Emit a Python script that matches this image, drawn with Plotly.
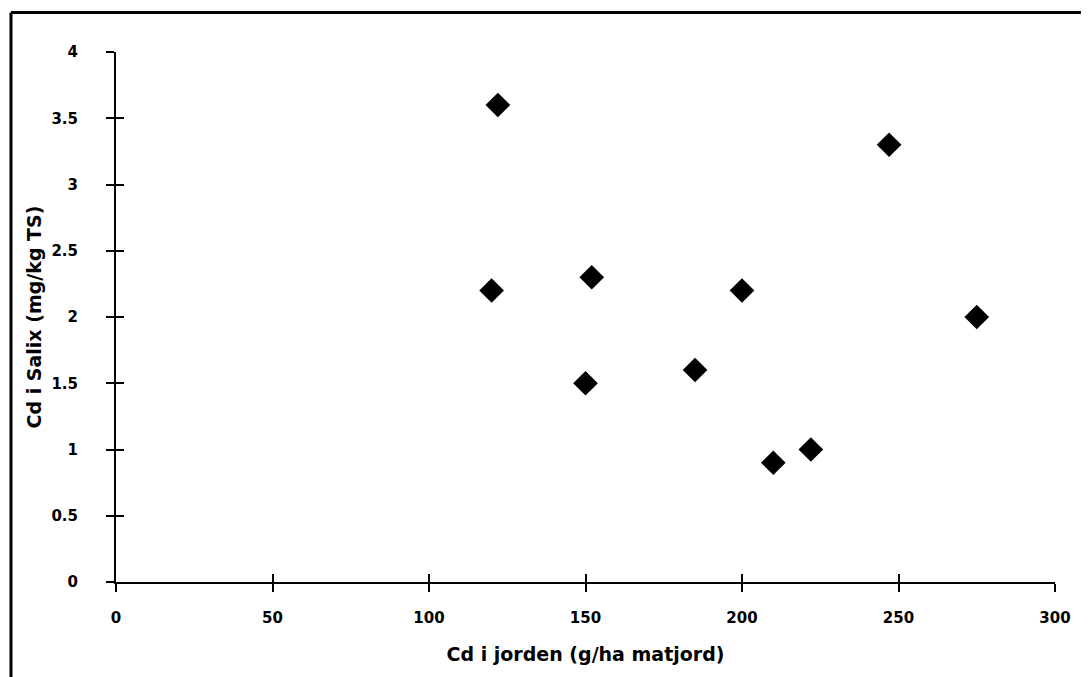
import plotly.graph_objects as go

x_vals = [120, 122, 150, 152, 185, 200, 210, 222, 247, 275]
y_vals = [2.2, 3.6, 1.5, 2.3, 1.6, 2.2, 0.9, 1.0, 3.3, 2.0]
x_ticks = [0, 50, 100, 150, 200, 250, 300]
y_ticks = [0, 0.5, 1, 1.5, 2, 2.5, 3, 3.5, 4]
y_tick_text = ["0", "0.5", "1", "1.5", "2", "2.5", "3", "3.5", "4"]
x_title = "Cd i jorden (g/ha matjord)"
y_title = "Cd i Salix (mg/kg TS)"

OFF = 8  # page body margin
W, H = 1089 - OFF, 677 - OFF
L, T = 116 - OFF, 52 - OFF
R = W - (1055 - OFF)
B = H - (582 - OFF)
pw = W - L - R
ph = H - T - B

font_fam = "DejaVu Sans, Verdana, sans-serif"

fig = go.Figure()
fig.add_trace(go.Scatter(
    x=x_vals, y=y_vals, mode="markers",
    marker=dict(symbol="diamond", size=19, color="black"),
    showlegend=False, hoverinfo="x+y"))
fig.add_trace(go.Scatter(x=[None], y=[None], xaxis="x2", yaxis="y2",
                         showlegend=False, hoverinfo="skip"))

axis_common = dict(showgrid=False, zeroline=False, showline=True,
                   linecolor="black", linewidth=2, tickcolor="black",
                   tickwidth=2, ticklen=8)

tickfont = dict(size=15, family=font_fam, weight="bold", color="black")
titlefont = dict(size=19, family=font_fam, weight="bold", color="black")

fig.update_layout(
    width=W, height=H,
    margin=dict(l=L, r=R, t=T, b=B, pad=0),
    paper_bgcolor="white", plot_bgcolor="white",
    font=dict(family=font_fam, color="black"),
    xaxis=dict(range=[0, 300], tickmode="array", tickvals=x_ticks,
               ticks="outside", ticklabelstandoff=13, tickfont=tickfont,
               title=dict(text=x_title, font=titlefont, standoff=22),
               **axis_common),
    yaxis=dict(range=[0, 4], tickmode="array", tickvals=y_ticks, ticktext=y_tick_text,
               ticks="outside", ticklabelstandoff=25, tickfont=tickfont,
               title=dict(text=y_title, font=titlefont, standoff=5),
               **axis_common),
    xaxis2=dict(range=[0, 300], overlaying="x", anchor="y", side="bottom",
                tickmode="array", tickvals=x_ticks, ticks="inside",
                showticklabels=False, **axis_common),
    yaxis2=dict(range=[0, 4], overlaying="y", anchor="x", side="left",
                tickmode="array", tickvals=y_ticks, ticks="inside",
                showticklabels=False, **axis_common),
    shapes=[
        dict(type="line", xref="paper", yref="paper",
             x0=(11 - 116) / pw, x1=(1100 - 116) / pw,
             y0=(582 - 12.5) / ph, y1=(582 - 12.5) / ph,
             line=dict(color="black", width=3)),
        dict(type="line", xref="paper", yref="paper",
             x0=(11 - 116) / pw, x1=(11 - 116) / pw,
             y0=(582 - 12.5) / ph, y1=-(110) / ph,
             line=dict(color="black", width=3)),
    ],
)

fig.write_html("out.html")
